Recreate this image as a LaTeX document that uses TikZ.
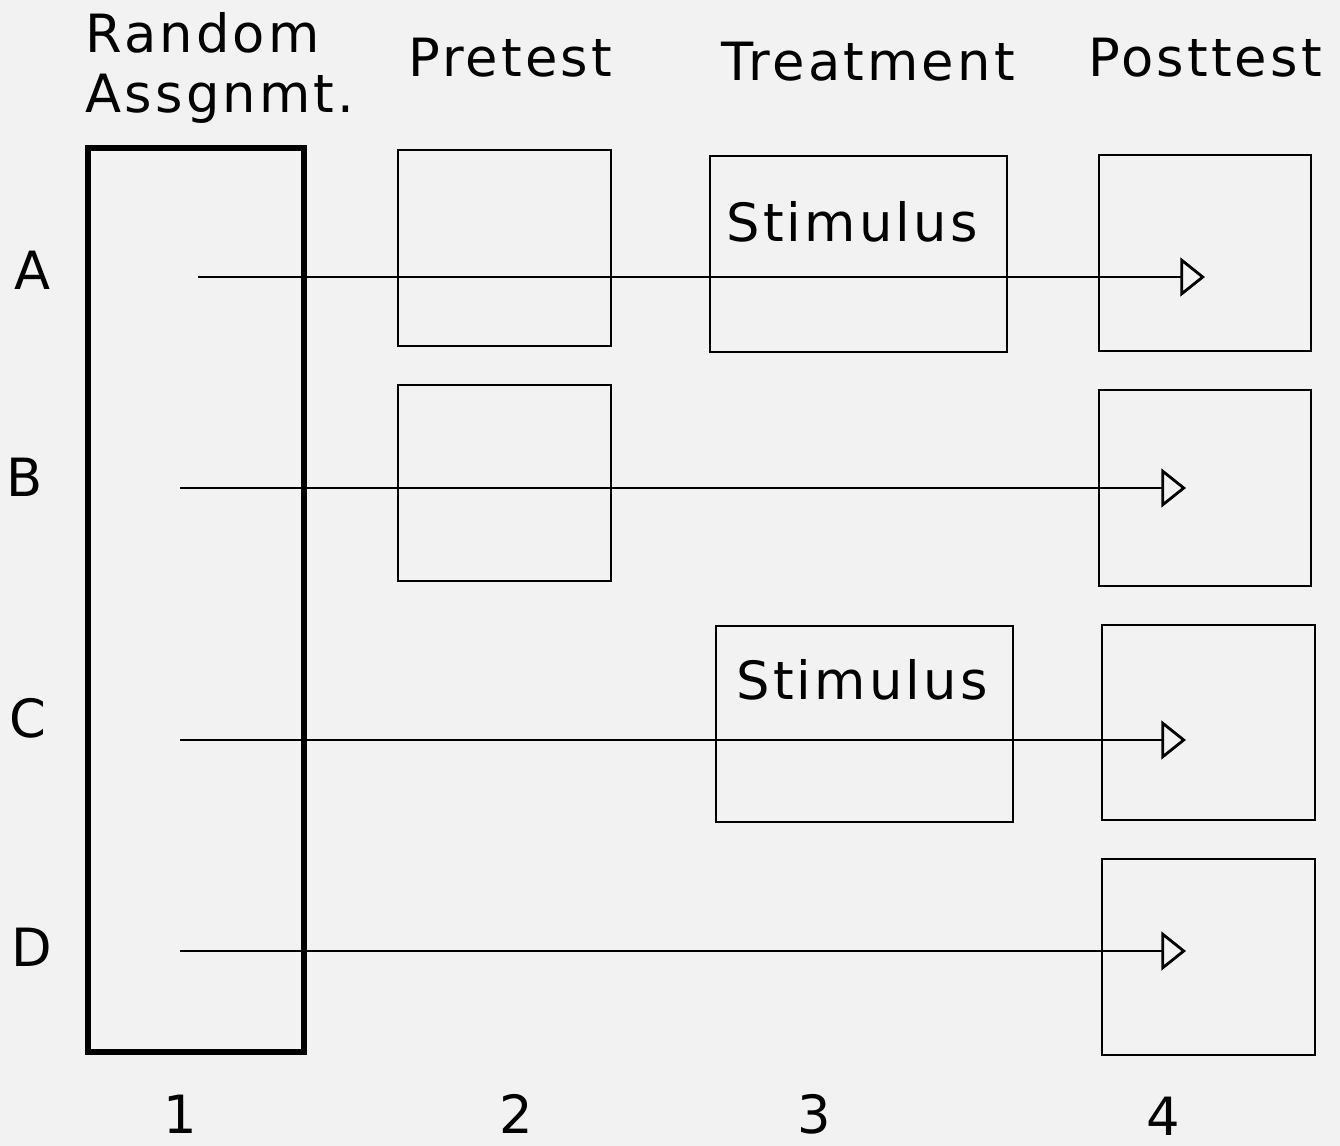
\documentclass[tikz,border=0pt]{standalone}
\usepackage{fontspec}
\setmainfont{DejaVu Sans}[LetterSpace=6]
\usetikzlibrary{arrows.meta}
\definecolor{bgcol}{HTML}{F2F2F2}
\tikzset{box/.style = {draw, line width=1.6pt}}
\tikzset{bigbox/.style = {draw, line width=3.2pt}}
\tikzset{flow/.style = {line width=1.6pt, -{Triangle[open, length=14pt, width=22pt, line width=1.6pt]}}}
\tikzset{lbl/.style = {font=\fontsize{30}{34}\selectfont, inner sep=0}}

\begin{document}
\begin{tikzpicture}[x=0.02cm, y=-0.02cm]
      \fill [bgcol] (0, 0) rectangle (1340, 1146);
      \useasboundingbox (0, 0) rectangle (1340, 1146);
      % column headers
      \node [lbl, align=left] (hrand) at (220, 68) {Random\\Assgnmt.};
      \node [lbl] (hpre) at (510, 58) {Pretest};
      \node [lbl] (htreat) at (868, 62) {Treatment};
      \node [lbl] (hpost) at (1205, 58) {Posttest};
      % boxes
      \draw [bigbox] (88, 148) rectangle (304, 1052);
      \draw [box] (398, 150) rectangle (611, 346);
      \draw [box] (398, 385) rectangle (611, 581);
      \draw [box] (710, 156) rectangle (1007, 352);
      \draw [box] (716, 626) rectangle (1013, 822);
      \draw [box] (1099, 155) rectangle (1311, 351);
      \draw [box] (1099, 390) rectangle (1311, 586);
      \draw [box] (1102, 625) rectangle (1315, 820);
      \draw [box] (1102, 859) rectangle (1315, 1055);
      \node [lbl] (stimA) at (852, 222) {Stimulus};
      \node [lbl] (stimC) at (862, 680) {Stimulus};
      % groups
      \node [lbl] (ga) at (33, 270) {A};
      \node [lbl] (gb) at (25, 477) {B};
      \node [lbl] (gc) at (28, 718) {C};
      \node [lbl] (gd) at (32, 947) {D};
      \coordinate (sa) at (198, 277);  \coordinate (ea) at (1205, 277);
      \coordinate (sb) at (180, 488);  \coordinate (eb) at (1186, 488);
      \coordinate (sc) at (180, 740);  \coordinate (ec) at (1186, 740);
      \coordinate (sd) at (180, 951);  \coordinate (ed) at (1186, 951);
      \draw [flow] (sa) -- (ea);
      \draw [flow] (sb) -- (eb);
      \draw [flow] (sc) -- (ec);
      \draw [flow] (sd) -- (ed);
      % column numbers
      \node [lbl] (n1) at (180, 1114) {1};
      \node [lbl] (n2) at (516, 1114) {2};
      \node [lbl] (n3) at (814, 1114) {3};
      \node [lbl] (n4) at (1163, 1116) {4};
    \end{tikzpicture}
\end{document}
